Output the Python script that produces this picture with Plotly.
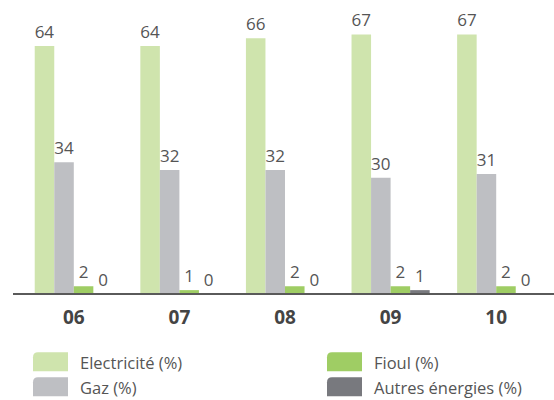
import plotly.graph_objects as go

# Energy mix by year (%)
years = ["06", "07", "08", "09", "10"]
series_names = ["Electricité (%)", "Gaz (%)", "Fioul (%)", "Autres énergies (%)"]
electricite = [64, 64, 66, 67, 67]
gaz = [34, 32, 32, 30, 31]
fioul = [2, 1, 2, 2, 2]
autres = [0, 0, 0, 1, 0]
series_values = [electricite, gaz, fioul, autres]
series_colors = ["#cfe4ad", "#bebfc3", "#9fcd64", "#78797e"]

W, H = 554, 400
ML, MR, MT, MB = 21, 5, 14.5, 105.5
PW, PH = W - ML - MR, H - MT - MB
Y_MAX = 72

FONT = "Open Sans"
LABEL_COLOR = "#555555"


def px_x(x):
    return (x - ML) / PW


def px_y(y):
    return (H - MB - y) / PH


fig = go.Figure()
for name, vals, col in zip(series_names, series_values, series_colors):
    fig.add_trace(go.Bar(
        x=years, y=vals, name=name,
        marker=dict(color=col, line=dict(width=0)),
        text=[str(v) for v in vals],
        textposition="outside",
        textfont=dict(family=FONT, size=17, color=LABEL_COLOR),
        constraintext="none",
        cliponaxis=False,
        showlegend=False,
        hoverinfo="skip",
    ))

# baseline
shapes = [dict(type="line", xref="paper", yref="paper",
               x0=px_x(13), x1=px_x(554), y0=0, y1=0,
               line=dict(color="#5a5a5a", width=2))]
annotations = []

# legend: two columns, two rows (swatches with a rounded top-left corner)
legend_slots = [(33, 353), (33, 378), (327, 353), (327, 378)]
for i, (sx, sy) in enumerate(legend_slots):
    r = 5
    pts = [("M", sx, sy + 19), ("L", sx, sy + r), ("Q", sx, sy), (None, sx + r, sy),
           ("L", sx + 35, sy), ("L", sx + 35, sy + 19)]
    parts = []
    for cmd, a, b in pts:
        if cmd:
            parts.append(cmd)
        parts.append(f"{px_x(a):.5f},{px_y(b):.5f}")
    parts.append("Z")
    shapes.append(dict(type="path", xref="paper", yref="paper",
                       path=" ".join(parts), fillcolor=series_colors[i],
                       line=dict(width=0)))
    annotations.append(dict(
        xref="paper", yref="paper", x=px_x(sx + 45), y=px_y(sy + 10),
        text=series_names[i], showarrow=False, xanchor="left", yanchor="middle",
        font=dict(family=FONT, size=16.5, color=LABEL_COLOR),
    ))

fig.update_layout(
    width=W, height=H,
    margin=dict(l=ML, r=MR, t=MT, b=MB, pad=0),
    paper_bgcolor="white", plot_bgcolor="white",
    barmode="group", bargap=0.26, bargroupgap=0,
    xaxis=dict(
        type="category", range=[-0.5, 4.5],
        showline=False, showgrid=False, zeroline=False, ticks="",
        tickfont=dict(family=FONT, size=19, color="#444444", weight="bold"),
        ticklabelstandoff=10,
    ),
    yaxis=dict(range=[0, Y_MAX], visible=False, showgrid=False, zeroline=False),
    shapes=shapes,
    annotations=annotations,
)

fig.write_html("out.html")
